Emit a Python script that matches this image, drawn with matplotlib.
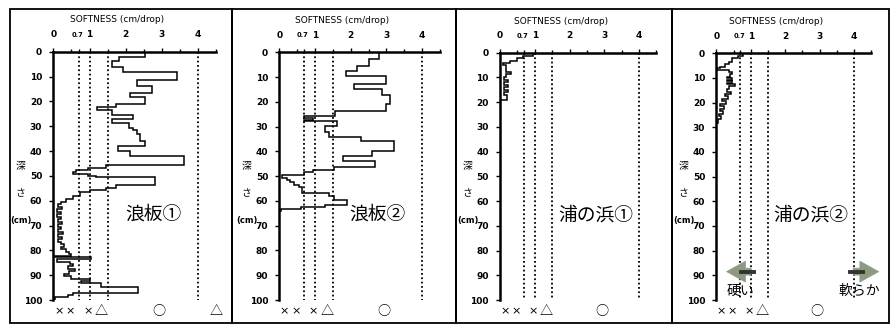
import matplotlib
matplotlib.use("Agg")
import matplotlib.pyplot as plt
from matplotlib.patches import Rectangle

plt.rcParams["font.family"] = ["DejaVu Sans", "Noto Sans CJK JP"]
JP = ["Noto Sans CJK JP", "DejaVu Sans"]

W, H = 893, 325

# softness profiles: layer boundaries (depth, cm) and value in each layer (cm/drop)
namiita1_edges = [0, 2.3, 3.6, 6.0, 8.0, 11.3, 13.7, 16.7, 18.3, 21.0, 22.4, 23.6, 25.3,
                  27.3, 28.9, 30.7, 31.6, 33.3, 36.0, 38.0, 40.0, 42.0, 45.5, 47.0, 47.7,
                  48.5, 49.3, 50.0, 50.6, 53.7, 55.0, 55.6, 56.4, 58.0, 59.3, 60.5, 61.5,
                  62.5, 63.5, 64.5, 65.5, 66.5, 67.5, 68.5, 69.5, 70.5, 71.5, 72.5, 73.5,
                  74.5, 75.5, 76.5, 77.5, 78.5, 79.5, 80.5, 81.5, 82.3, 82.8, 83.6, 84.5,
                  85.5, 86.5, 87.5, 88.5, 89.5, 90.5, 91.6, 92.5, 93.3, 94.8, 97.2, 98.0,
                  98.9, 100]
namiita1_vals = [2.53, 1.82, 1.61, 1.92, 3.41, 2.30, 2.73, 2.12, 2.53, 1.73, 1.22, 1.61,
                 2.21, 1.61, 2.10, 2.19, 2.30, 2.40, 2.53, 1.80, 2.12, 3.61, 1.46, 0.96,
                 0.64, 0.55, 0.96, 1.19, 2.80, 1.72, 1.46, 1.00, 0.73, 0.54, 0.36, 0.22,
                 0.12, 0.25, 0.10, 0.22, 0.10, 0.20, 0.12, 0.24, 0.12, 0.20, 0.14, 0.28,
                 0.14, 0.25, 0.12, 0.20, 0.30, 0.22, 0.35, 0.42, 0.50, 0.05, 1.05, 0.10,
                 0.45, 0.55, 0.40, 0.60, 0.42, 0.30, 0.50, 1.00, 0.76, 1.33, 2.34, 0.55,
                 0.41, 0.04]

namiita2_edges = [0, 2.8, 5.5, 7.5, 9.6, 12.8, 14.9, 17.2, 21.0, 23.7, 25.7, 26.5, 27.3,
                  27.8, 29.7, 32.0, 34.0, 36.0, 39.8, 41.8, 43.7, 46.4, 47.5, 48.5, 49.5,
                  50.8, 51.5, 52.2, 53.5, 54.2, 56.9, 58.0, 59.6, 61.6, 62.5, 63.4, 64.0]
namiita2_vals = [2.78, 2.50, 2.17, 1.88, 3.00, 2.08, 2.88, 3.09, 3.00, 1.57, 0.68, 0.95,
                 0.68, 1.61, 1.27, 1.38, 2.29, 3.20, 2.60, 1.78, 2.69, 1.52, 0.95, 0.68,
                 0.08, 0.22, 0.31, 0.40, 0.54, 0.64, 1.38, 1.52, 1.90, 1.29, 0.60, 0.05]

uranohama1_edges = [0, 1.3, 2.3, 3.2, 4.2, 5.0, 8.0, 8.6, 10, 11, 12, 13, 14, 15, 16, 17, 19.2]
uranohama1_vals = [0.95, 0.65, 0.50, 0.30, 0.10, 0.18, 0.33, 0.17, 0.12, 0.22, 0.12, 0.22,
                   0.12, 0.22, 0.12, 0.20]

uranohama2_edges = [0, 1.1, 2.0, 3.5, 4.5, 5.5, 6.1, 6.8, 7.5, 8.5, 9.5, 10.2, 10.8, 11.4,
                    12.0, 12.6, 13.2, 14.5, 15.5, 16.5, 17.5, 18.5, 19.5, 20.5, 21.5, 22.5,
                    23.5, 24.5, 25.5, 26.5, 28.4]
uranohama2_vals = [0.79, 0.64, 0.45, 0.36, 0.25, 0.12, 0.02, 0.38, 0.46, 0.40, 0.30, 0.45,
                   0.30, 0.45, 0.30, 0.55, 0.38, 0.30, 0.42, 0.25, 0.35, 0.18, 0.28, 0.12,
                   0.22, 0.10, 0.20, 0.08, 0.15, 0.05]

site_names = ["浪板①", "浪板②", "浦の浜①", "浦の浜②"]
profiles = [(namiita1_edges, namiita1_vals), (namiita2_edges, namiita2_vals),
            (uranohama1_edges, uranohama1_vals), (uranohama2_edges, uranohama2_vals)]

thresholds = [0.7, 1, 1.5, 4]
x_ticks = [0, 1, 2, 3, 4]
x_ticklabels = ["0", "1", "2", "3", "4"]
depth_ticks = list(range(0, 101, 10))
rating_pos = [0.15, 0.47, 0.96, 1.33, 2.93, 4.5]
rating_marks = ["×", "×", "×", "△", "○", "△"]

# axes placement in pixels: left (value 0), px per unit, top (depth 0)
panel_geom = [(53.3, 36.2, 51.7), (279.3, 35.7, 52.3), (500.0, 34.75, 52.7), (716.3, 34.4, 53.3)]
frame_x = [10, 232, 456, 672, 889]

fig = plt.figure(figsize=(W / 100, H / 100), dpi=100)
fig.patch.set_facecolor("white")

for k in range(4):
    fig.add_artist(Rectangle((frame_x[k] / W, 2 / H), (frame_x[k + 1] - frame_x[k]) / W,
                             (H - 11) / H, transform=fig.transFigure,
                             fill=False, lw=1.3, ec="black"))

for k, ((edges, vals), name) in enumerate(zip(profiles, site_names)):
    x0, unit, y0 = panel_geom[k]
    ax = fig.add_axes([x0 / W, 1 - 300 / H, 4.5 * unit / W, (300 - y0) / H])
    ax.set_xlim(0, 4.5)
    ax.set_ylim(100, 0)
    ax.patch.set_alpha(0)
    for s in ("right", "bottom"):
        ax.spines[s].set_visible(False)
    ax.spines["top"].set_linewidth(1.8)
    ax.spines["left"].set_linewidth(1.8)

    ax.xaxis.tick_top()
    ax.set_xticks(x_ticks)
    ax.set_xticklabels(x_ticklabels, fontsize=6.5, fontweight="bold")
    ax.set_xticks([0.5, 0.7, 1.5, 2.5, 3.5, 4.5], minor=True)
    ax.tick_params(axis="x", which="major", length=3, width=1, pad=6)
    ax.tick_params(axis="x", which="minor", length=2, width=1)
    ax.text(0.66, -5.6, "0.7", fontsize=4.8, fontweight="bold", ha="center",
            va="bottom", clip_on=False)
    ax.set_yticks(depth_ticks)
    ax.set_yticklabels([str(d) for d in depth_ticks], fontsize=6.5, fontweight="bold")
    ax.tick_params(axis="y", length=3, width=1, pad=5)

    for t in thresholds:
        ax.plot([t, t], [0, 100], color="black", lw=1.3, ls=(0, (1, 1.4)), zorder=1)

    ax.stairs(vals, edges, orientation="horizontal", baseline=0, color="black", lw=1.1,
              zorder=3)

    ax.text(1.75, -12.8, "SOFTNESS (cm/drop)", fontsize=6.5, ha="center", va="center",
            clip_on=False)
    ax.text(2.76, 65.5, name, fontsize=13.5, family=JP, ha="center", va="center")

    for p, m in zip(rating_pos if k == 0 else rating_pos[:-1], rating_marks):
        if m == "×":
            ax.text(p, 104.5, m, fontsize=8, ha="center", va="center", clip_on=False)
        else:
            ax.text(p, 104.5, m, fontsize=9.5, family=JP, ha="center", va="center",
                    clip_on=False)

    # 深さ (cm) written down the left side
    lx = x0 - 33
    fig.text(lx / W, 1 - 166 / H, "深", fontsize=7, family=JP, ha="center", va="center")
    fig.text(lx / W, 1 - 193 / H, "さ", fontsize=7, family=JP, ha="center", va="center")
    fig.text((lx + 1) / W, 1 - 221 / H, "(cm)", fontsize=6, fontweight="bold",
             ha="center", va="center")

    if k == 3:
        arrow_kw = dict(arrowstyle="simple,head_length=0.9,head_width=1.0,tail_width=0.33",
                        mutation_scale=15, fc="#8c9a82", ec="#8c9a82", lw=0.5)
        ax.annotate("", xy=(0.22, 88.5), xytext=(1.09, 88.5), arrowprops=arrow_kw,
                    annotation_clip=False)
        ax.annotate("", xy=(4.8, 88.5), xytext=(3.9, 88.5), arrowprops=arrow_kw,
                    annotation_clip=False)
        ax.plot([0.72, 1.09], [88.5, 88.5], color="#333333", lw=2.8, zorder=4)
        ax.plot([3.9, 4.25], [88.5, 88.5], color="#333333", lw=2.8, zorder=4,
                clip_on=False)
        ax.text(0.70, 96.3, "硬い", fontsize=10, family=JP, ha="center", va="center")
        ax.text(4.15, 96.3, "軟らか", fontsize=10, family=JP, ha="center", va="center",
                clip_on=False)

fig.savefig("out.png", dpi=100)
